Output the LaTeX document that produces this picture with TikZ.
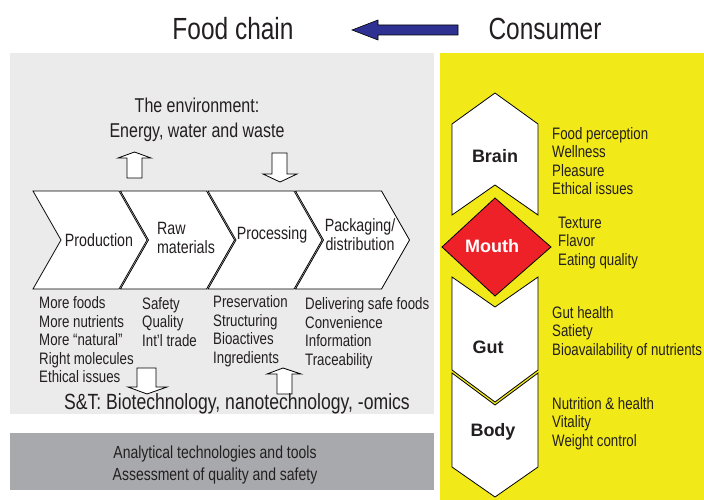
\documentclass[tikz,border=0pt]{standalone}
\usepackage{fontspec}
\setmainfont{Liberation Sans}[FakeStretch=0.8]
\newfontfamily\organfont{Liberation Sans}

\definecolor{chaingray}{HTML}{EBEBEB}
\definecolor{toolgray}{HTML}{A8A9AD}
\definecolor{consyellow}{HTML}{F2E918}
\definecolor{mouthred}{HTML}{EE2128}
\definecolor{flowblue}{HTML}{2E3192}
\definecolor{inkgray}{HTML}{231F20}

\begin{document}
\begin{tikzpicture}[x=1pt,y=-1pt,
    txt/.style={text=inkgray, inner sep=0pt},
    list/.style={txt, align=left, anchor=west, font=\fontsize{16.6}{18.5}\selectfont},
    stagetxt/.style={txt, font=\fontsize{17.8}{19}\selectfont},
    organ/.style={txt, font=\organfont\bfseries\fontsize{18}{20}\selectfont},
    outline/.style={draw=black, fill=white, line width=0.8pt, line join=miter}]
    \useasboundingbox (0,0) rectangle (704,500);

    % panels
    \fill[chaingray] (10,53) rectangle (434,414);
    \fill[toolgray] (10,433) rectangle (434,490);
    \fill[consyellow] (440,53) rectangle (704,500);

    % heading
    \node[txt, font=\fontsize{30.6}{32}\selectfont] (chain) at (233,29) {Food chain};
    \node[txt, font=\fontsize{30.6}{32}\selectfont] (consumer) at (545,29) {Consumer};
    \coordinate (flowtail) at (458,30);
    \coordinate (flowtip) at (352,30);
    \draw[outline, fill=flowblue, line width=0.6pt] (flowtail) ++(0,-5) -- ++(-80,0) -- ++(0,-5)
        -- (flowtip) -- ++(26,10) -- ++(0,-5) -- ++(80,0) -- cycle;

    % food chain stages
    \foreach \x in {33,120.5,208,295.5}
        \draw[outline] (\x,191) -- ++(86,0) -- ++(28,49) -- ++(-28,49) -- ++(-86,0) -- ++(28,-49) -- cycle;
    \node[stagetxt] (production) at (99,240) {Production};
    \node[stagetxt, align=left] (raw) at (186,238) {Raw\\materials};
    \node[stagetxt] (processing) at (272,235) {Processing};
    \node[stagetxt, align=center] (packaging) at (360,235) {Packaging/\\distribution};

    \node[txt, align=center, font=\fontsize{20}{25}\selectfont] (env) at (197,120) {The environment:\\Energy, water and waste};
    \draw[outline] (127,178) -- (127,158) -- (118,158) -- (134.5,152) -- (151,158) -- (142,158) -- (142,178) -- cycle;
    \draw[outline] (272,153) -- (272,174) -- (263,174) -- (280,182) -- (297,174) -- (287,174) -- (287,153) -- cycle;

    \node[list] (prodlist) at (39,340) {More foods\\More nutrients\\More “natural”\\Right molecules\\Ethical issues};
    \node[list] (rawlist) at (142,322) {Safety\\Quality\\Int’l trade};
    \node[list] (proclist) at (213,331) {Preservation\\Structuring\\Bioactives\\Ingredients};
    \node[list] (packlist) at (305,333) {Delivering safe foods\\Convenience\\Information\\Traceability};

    \draw[outline] (137,368) -- (137,387) -- (128,387) -- (147,394) -- (167,387) -- (156,387) -- (156,368) -- cycle;
    \draw[outline] (277,394) -- (277,374) -- (267,374) -- (283,368) -- (301,374) -- (292,374) -- (292,394) -- cycle;
    \node[txt, font=\fontsize{22}{24}\selectfont] (st) at (237,404) {S\&T: Biotechnology, nanotechnology, -omics};

    \node[txt, align=center, font=\fontsize{17.5}{22}\selectfont] (tools) at (215,465) {Analytical technologies and tools\\Assessment of quality and safety};

    % consumer side
    \draw[outline] (495,93) -- (538,124) -- (538,215) -- (495,185) -- (452,215) -- (452,124) -- cycle;
    \draw[outline, fill=mouthred] (495,198) -- (551,247) -- (495,296) -- (442,247) -- cycle;
    \draw[outline] (452,277) -- (495,307) -- (538,277) -- (538,370) -- (495,402) -- (452,370) -- cycle;
    \draw[outline] (452,373) -- (495,405) -- (538,373) -- (538,467) -- (495,497) -- (452,467) -- cycle;
    \node[organ] (brain) at (495,156) {Brain};
    \node[organ, text=white] (mouth) at (492,246) {Mouth};
    \node[organ] (gut) at (488,347) {Gut};
    \node[organ] (body) at (493,432) {Body};

    \node[list] (brainlist) at (552,161) {Food perception\\Wellness\\Pleasure\\Ethical issues};
    \node[list] (mouthlist) at (558,243) {Texture\\Flavor\\Eating quality};
    \node[list] (gutlist) at (552,332.5) {Gut health\\Satiety\\Bioavailability of nutrients};
    \node[list] (bodylist) at (552,423.5) {Nutrition \& health\\Vitality\\Weight control};
\end{tikzpicture}
\end{document}
